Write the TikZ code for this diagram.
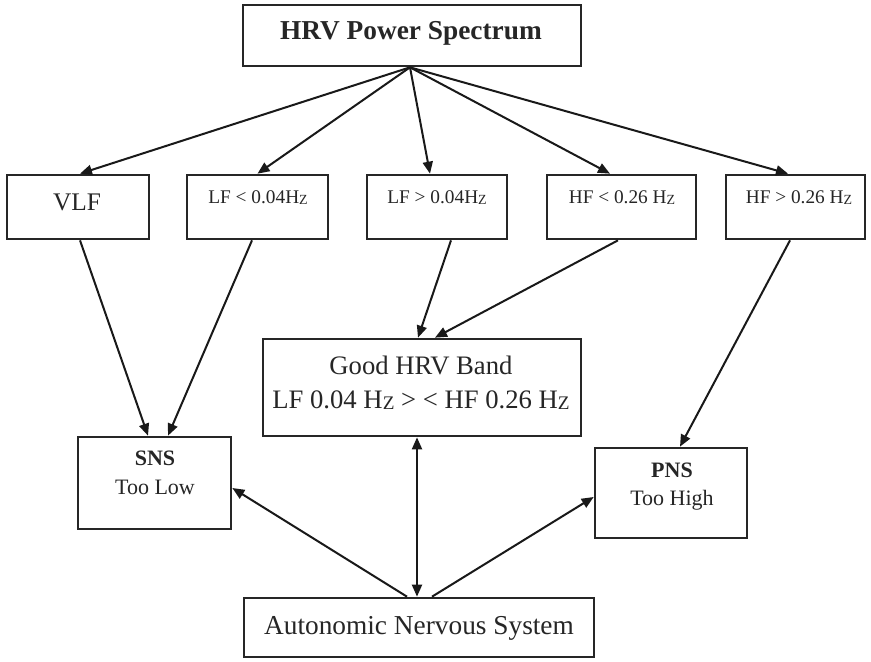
\documentclass[tikz,border=0pt]{standalone}
\usepackage{fontspec}
\setmainfont{Liberation Serif}
\usepackage{graphicx}
\usetikzlibrary{arrows.meta,calc}
\newcommand\hzz{H\raisebox{-0.12ex}{\scalebox{0.72}{Z}}}
\newcommand\bx[5]{\node[box, minimum width={(#4-#2)*0.75pt}, minimum height={(#5-#3)*0.75pt}] (#1) at ({(#2+#4)/2},{(#3+#5)/2}) {};}
\tikzset{
  box/.style={draw=black!85, line width=2pt, fill=white, inner sep=0pt},
  txt/.style={anchor=base, inner sep=0pt, text=black!85},
  conn/.style={draw=black!90, line width=1.5pt, -{Triangle[length=9pt,width=7.5pt]}},
  conn2/.style={draw=black!90, line width=1.5pt, {Triangle[length=9pt,width=7.5pt]}-{Triangle[length=9pt,width=7.5pt]}}
}
\begin{document}
\begin{tikzpicture}[x=0.75pt,y=-0.75pt]
\useasboundingbox[fill=white] (0,0) rectangle (871,661);
% boxes
\bx{hrv}{243}{5}{581}{66}
\bx{vlf}{7}{175}{149}{239}
\bx{lfa}{187}{175}{328}{239}
\bx{lfb}{367}{175}{507}{239}
\bx{hfa}{547}{175}{696}{239}
\bx{hfb}{726}{175}{865}{239}
\bx{good}{263}{339}{581}{436}
\bx{sns}{78}{437}{231}{529}
\bx{pns}{595}{448}{747}{538}
\bx{ans}{244}{598}{594}{657}
% texts
\node[txt, font=\fontsize{20.5}{24}\selectfont\bfseries] (thrv) at (411,39) {HRV Power Spectrum};
\node[txt, font=\fontsize{19}{22}\selectfont] (tvlf) at (77,210) {VLF};
\node[txt, font=\fontsize{14.5}{17}\selectfont] (tlfa) at (258,203) {LF < 0.04\hzz};
\node[txt, font=\fontsize{14.5}{17}\selectfont] (tlfb) at (437,203) {LF > 0.04\hzz};
\node[txt, font=\fontsize{14.5}{17}\selectfont] (thfa) at (622,203) {HF < 0.26 \hzz};
\node[txt, font=\fontsize{14.5}{17}\selectfont] (thfb) at (799,203) {HF > 0.26 \hzz};
\node[txt, font=\fontsize{20}{24}\selectfont] (tgood1) at (421,374) {Good HRV Band};
\node[txt, font=\fontsize{20}{24}\selectfont] (tgood2) at (421,408) {LF 0.04 \hzz{} > < HF 0.26 \hzz};
\node[txt, font=\fontsize{16.5}{20}\selectfont\bfseries] (tsns1) at (155,465) {SNS};
\node[txt, font=\fontsize{16.5}{20}\selectfont] (tsns2) at (155,494) {Too Low};
\node[txt, font=\fontsize{16.5}{20}\selectfont\bfseries] (tpns1) at (672,477) {PNS};
\node[txt, font=\fontsize{16.5}{20}\selectfont] (tpns2) at (672,505) {Too High};
\node[txt, font=\fontsize{20.5}{24}\selectfont] (tans) at (419,634) {Autonomic Nervous System};
% connectors
\coordinate (foot) at ($(hrv.south)+(-2,0)$);
\draw[conn] (foot) -- ($(vlf.north)+(2,0)$);
\draw[conn] (foot) -- ($(lfa.north)+(0,0)$);
\draw[conn] (foot) -- ($(lfb.north)+(-7,0)$);
\draw[conn] (foot) -- ($(hfa.north)+(-11.5,0)$);
\draw[conn] (foot) -- ($(hfb.north)+(-7.5,0)$);
\draw[conn] ($(vlf.south)+(2,0)$) -- ($(sns.north)+(-6.5,0)$);
\draw[conn] ($(lfa.south)+(-5.5,0)$) -- ($(sns.north)+(13.5,0)$);
\draw[conn] ($(lfb.south)+(14,0)$) -- ($(good.north)+(-4,0)$);
\draw[conn] ($(hfa.south)+(-3.5,0)$) -- ($(good.north)+(13,0)$);
\draw[conn] ($(hfb.south)+(-5.5,0)$) -- ($(pns.north)+(9,0)$);
\draw[conn2] ($(good.south)+(-5,0)$) -- ($(ans.north)+(-2,0)$);
\draw[conn] ($(ans.north)+(-12,0)$) -- ($(sns.east)+(0,5)$);
\draw[conn] ($(ans.north)+(13,0)$) -- ($(pns.west)+(0,4)$);
\end{tikzpicture}
\end{document}
